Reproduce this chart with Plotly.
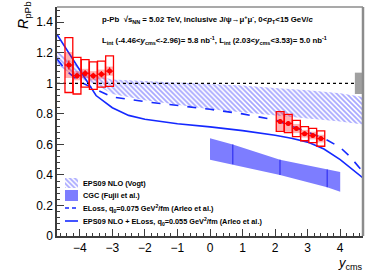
import plotly.graph_objects as go

# ---------------- data ----------------
bw_y = [-4.335, -4.085, -3.835, -3.585, -3.335, -3.085]
bw_R = [1.12, 1.05, 1.065, 1.05, 1.06, 1.08]
bw_stat = [0.03, 0.02, 0.02, 0.02, 0.02, 0.025]
bw_syst = [0.18, 0.12, 0.09, 0.09, 0.085, 0.10]
bw_corr = [0.085, 0.03, 0.03, 0.03, 0.03, 0.03]

fw_y = [2.155, 2.405, 2.655, 2.905, 3.155, 3.405]
fw_R = [0.75, 0.737, 0.704, 0.67, 0.658, 0.638]
fw_stat = [0.015, 0.015, 0.015, 0.015, 0.015, 0.015]
fw_syst = [0.065, 0.06, 0.053, 0.046, 0.047, 0.05]
fw_corr = [0.06, 0.055, 0.03, 0.025, 0.025, 0.025]

box_hw = 0.12
bin_hw = 0.125

eps_x = [-4.7, -4.0, -3.5, -3.0, -2.0, -1.0, 0.0, 1.0, 2.0, 3.0, 4.0, 4.7]
eps_up = [1.21, 1.10, 1.05, 1.025, 1.015, 1.005, 0.995, 0.985, 0.97, 0.955, 0.935, 0.91]
eps_lo = [1.12, 1.03, 0.99, 0.93, 0.89, 0.86, 0.83, 0.81, 0.79, 0.77, 0.75, 0.73]

cgc_x = [0.0, 0.7, 2.15, 3.6, 4.0]
cgc_up = [0.64, 0.60, 0.50, 0.435, 0.42]
cgc_lo = [0.50, 0.47, 0.40, 0.32, 0.29]

el_x = [-4.7, -4.4, -4.0, -3.5, -3.0, -2.0, -1.0, 0.0, 1.0, 2.0, 2.5, 3.0, 3.5, 4.0, 4.3, 4.7]
el_R = [1.16, 1.08, 1.01, 0.96, 0.91, 0.88, 0.855, 0.83, 0.80, 0.76, 0.72, 0.68, 0.64, 0.58, 0.52, 0.42]

epsel_x = [-4.7, -4.4, -4.0, -3.5, -3.0, -2.5, -2.0, -1.0, 0.0, 1.0, 2.0, 2.5, 3.0, 3.5, 4.0, 4.3, 4.7]
epsel_R = [1.32, 1.22, 1.09, 0.92, 0.84, 0.79, 0.765, 0.735, 0.715, 0.69, 0.66, 0.64, 0.615, 0.57, 0.50, 0.45, 0.38]

norm_x = [4.45, 4.7]
norm_R = [0.93, 1.07]

legend_labels = [
    "EPS09 NLO (Vogt)",
    "CGC (Fujii et al.)",
    "ELoss, q<sub>0</sub>=0.075 GeV<sup>2</sup>/fm (Arleo et al.)",
    "EPS09 NLO + ELoss, q<sub>0</sub>=0.055 GeV<sup>2</sup>/fm (Arleo et al.)",
]

FONT = "Liberation Sans, Arial, sans-serif"
RED = "rgb(255,0,0)"
BLUE = "rgb(20,40,255)"
HATCH = dict(shape="\\", fgcolor="rgb(80,80,255)", bgcolor="rgba(0,0,0,0)", size=3.5, solidity=0.5)
CGC_COL = "rgb(125,125,255)"

fig = go.Figure()

# EPS09 hatched band
fig.add_trace(go.Scatter(
    x=eps_x + eps_x[::-1], y=eps_up + eps_lo[::-1], fill="toself", mode="lines",
    line=dict(width=0, color="rgba(0,0,0,0)"), fillcolor="rgba(0,0,0,0)",
    fillpattern=HATCH, showlegend=False, hoverinfo="skip"))

# CGC band
fig.add_trace(go.Scatter(
    x=cgc_x + cgc_x[::-1], y=cgc_up + cgc_lo[::-1], fill="toself", mode="lines",
    line=dict(width=0, color="rgba(0,0,0,0)"), fillcolor=CGC_COL,
    showlegend=False, hoverinfo="skip"))
for xi, u, l in zip(cgc_x[1:-1], cgc_up[1:-1], cgc_lo[1:-1]):
    fig.add_trace(go.Scatter(x=[xi, xi], y=[l, u], mode="lines",
                             line=dict(color="rgb(50,50,240)", width=1.2),
                             showlegend=False, hoverinfo="skip"))

fig.add_trace(go.Scatter(x=el_x, y=el_R, mode="lines",
                         line=dict(color=BLUE, width=1.6, dash="dash"), showlegend=False))
fig.add_trace(go.Scatter(x=epsel_x, y=epsel_R, mode="lines",
                         line=dict(color=BLUE, width=1.6), showlegend=False))

# reference line at 1
fig.add_trace(go.Scatter(x=[-4.7, 4.7], y=[1, 1], mode="lines",
                         line=dict(color="black", width=1.3, dash="dot"),
                         showlegend=False, hoverinfo="skip"))

# normalisation box
fig.add_shape(type="rect", xref="x", yref="y", x0=norm_x[0], x1=norm_x[1],
              y0=norm_R[0], y1=norm_R[1], fillcolor="rgb(160,160,160)", line=dict(width=0))

# systematic boxes
for ys, Rs, sy, co in ((bw_y, bw_R, bw_syst, bw_corr), (fw_y, fw_R, fw_syst, fw_corr)):
    for xi, r, s, c in zip(ys, Rs, sy, co):
        fig.add_shape(type="rect", xref="x", yref="y", x0=xi - box_hw, x1=xi + box_hw,
                      y0=r - c, y1=r + c, fillcolor="rgba(255,0,0,0.3)", line=dict(width=0))
        fig.add_shape(type="rect", xref="x", yref="y", x0=xi - box_hw, x1=xi + box_hw,
                      y0=r - s, y1=r + s, fillcolor="rgba(0,0,0,0)",
                      line=dict(color=RED, width=1.3))

for ys, Rs, st in ((bw_y, bw_R, bw_stat), (fw_y, fw_R, fw_stat)):
    fig.add_trace(go.Scatter(
        x=ys, y=Rs, mode="markers", marker=dict(color=RED, size=5, symbol="circle"),
        error_x=dict(type="constant", value=bin_hw, color=RED, thickness=1.3, width=0),
        error_y=dict(type="data", array=st, color=RED, thickness=1.3, width=0),
        showlegend=False))

# ---------------- legend (drawn on a pixel-like overlay axis) ----------------
kx0, kx1 = 65, 78
rows = [183, 195.5, 208, 221]
fig.add_trace(go.Scatter(x=[kx0, kx1, kx1, kx0, kx0], y=[178, 178, 188, 188, 178],
                         xaxis="x2", yaxis="y2", fill="toself", mode="lines",
                         line=dict(width=0, color="rgba(0,0,0,0)"), fillcolor="rgba(0,0,0,0)",
                         fillpattern=HATCH, showlegend=False, hoverinfo="skip"))
fig.add_trace(go.Scatter(x=[kx0, kx1, kx1, kx0, kx0], y=[190, 190, 201, 201, 190],
                         xaxis="x2", yaxis="y2", fill="toself", mode="lines",
                         line=dict(width=0, color="rgba(0,0,0,0)"), fillcolor=CGC_COL,
                         showlegend=False, hoverinfo="skip"))
fig.add_trace(go.Scatter(x=[kx0, kx1], y=[rows[2], rows[2]], xaxis="x2", yaxis="y2",
                         mode="lines", line=dict(color=BLUE, width=1.6, dash="4px,3px"),
                         showlegend=False, hoverinfo="skip"))
fig.add_trace(go.Scatter(x=[kx0, kx1], y=[rows[3], rows[3]], xaxis="x2", yaxis="y2",
                         mode="lines", line=dict(color=BLUE, width=1.6),
                         showlegend=False, hoverinfo="skip"))
for r, lab in zip(rows, legend_labels):
    fig.add_annotation(xref="x2", yref="y2", x=81, y=r, text=lab, showarrow=False,
                       xanchor="left", yanchor="middle",
                       font=dict(family=FONT, size=7.3, color="black", weight="bold"))

# frame (top / right)
fig.add_shape(type="line", xref="paper", yref="paper", x0=0, x1=1, y0=1, y1=1,
              line=dict(color="rgb(140,140,140)", width=1.5))
fig.add_shape(type="line", xref="paper", yref="paper", x0=1, x1=1, y0=0, y1=1,
              line=dict(color="rgb(140,140,140)", width=2.5))

fig.add_annotation(xref="paper", yref="paper", x=-0.108, y=0.965, textangle=-90,
                   text="<i>R</i><sub>pPb</sub>", showarrow=False,
                   font=dict(family=FONT, size=14, color="black"),
                   xanchor="center", yanchor="middle")
fig.add_annotation(xref="paper", yref="paper", x=1.006, y=-0.118,
                   text="<i>y</i><sub>cms</sub>", showarrow=False,
                   font=dict(family=FONT, size=13, color="black"),
                   xanchor="right", yanchor="middle")
fig.add_annotation(xref="paper", yref="paper", x=0.14, y=0.945,
                   text="p-Pb  √s<sub>NN</sub> = 5.02 TeV, inclusive J/ψ→μ<sup>+</sup>μ<sup>-</sup>, 0&lt;<i>p</i><sub>T</sub>&lt;15 GeV/<i>c</i>",
                   showarrow=False, font=dict(family=FONT, size=7.8, color="black", weight="bold"),
                   xanchor="left", yanchor="middle")
fig.add_annotation(xref="paper", yref="paper", x=0.14, y=0.855,
                   text="L<sub>int</sub> (-4.46&lt;<i>y</i><sub>cms</sub>&lt;-2.96)= 5.8 nb<sup>-1</sup>, L<sub>int</sub> (2.03&lt;<i>y</i><sub>cms</sub>&lt;3.53)= 5.0 nb<sup>-1</sup>",
                   showarrow=False, font=dict(family=FONT, size=7.8, color="black", weight="bold"),
                   xanchor="left", yanchor="middle")

axis_common = dict(showgrid=False, zeroline=False, showline=True, linecolor="rgb(60,60,60)",
                   linewidth=1.5, ticks="inside", ticklen=7, tickcolor="rgb(60,60,60)",
                   tickfont=dict(family=FONT, size=12, color="black"))
fig.update_xaxes(range=[-4.7, 4.7], dtick=1, tick0=0,
                 minor=dict(ticks="inside", ticklen=3.5, dtick=0.2, tickcolor="rgb(60,60,60)"),
                 **axis_common)
fig.update_yaxes(range=[0, 1.5], dtick=0.2, tick0=0,
                 minor=dict(ticks="inside", ticklen=3.5, dtick=0.04, tickcolor="rgb(60,60,60)"),
                 **axis_common)

fig.update_layout(
    width=374, height=272, margin=dict(l=57, r=11, t=7, b=36),
    plot_bgcolor="white", paper_bgcolor="white", showlegend=False,
    xaxis2=dict(overlaying="x", anchor="y2", range=[57, 363], visible=False, fixedrange=True),
    yaxis2=dict(overlaying="y", anchor="x2", range=[236, 7], visible=False, fixedrange=True),
    font=dict(family=FONT),
)

fig.write_html("out.html", config={"displayModeBar": False},
               post_script="document.body.style.margin='0px';document.body.style.padding='0px';")
